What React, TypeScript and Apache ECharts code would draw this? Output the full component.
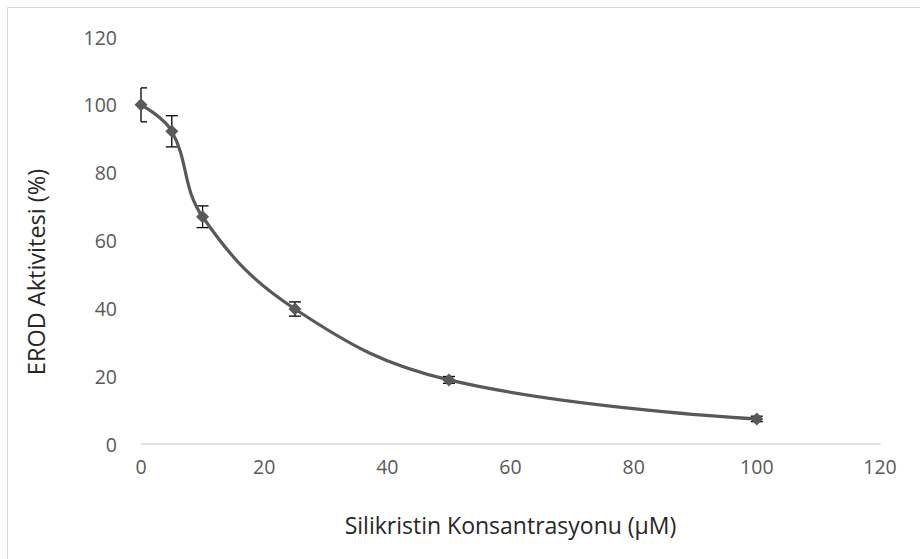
import React, { useEffect, useRef } from "react";
import * as echarts from "echarts";

// Silikristin concentration (µM) vs. EROD activity (%)
const concentrations = [0, 5, 10, 25, 50, 100];
const activity = [100, 92.2, 67, 39.8, 18.9, 7.4];
const errors = [5, 4.6, 3.2, 2.1, 1, 0.8];

const xTicks = { min: 0, max: 120, interval: 20 };
const yTicks = { min: 0, max: 120, interval: 20 };

const xTitle = "Silikristin Konsantrasyonu (μM)";
const yTitle = "EROD Aktivitesi (%)";

const FONT = "'Open Sans', sans-serif";
const INK = "#595959";

export default function App() {
  const ref = useRef<HTMLDivElement>(null);

  useEffect(() => {
    if (!ref.current) return;
    const chart = echarts.init(ref.current, undefined, { renderer: "svg" });

    const points = concentrations.map((c, i) => [c, activity[i]]);
    const bars = concentrations.map((c, i) => [c, activity[i] - errors[i], activity[i] + errors[i]]);

    chart.setOption({
      animation: false,
      backgroundColor: "#ffffff",
      graphic: [
        {
          type: "rect",
          shape: { x: 7.5, y: 7.5, width: 930, height: 600 },
          style: { fill: "none", stroke: "#d9d9d9", lineWidth: 1 },
          silent: true,
          z: -10,
        },
        {
          type: "text",
          x: 36,
          y: 272,
          rotation: Math.PI / 2,
          style: {
            text: yTitle,
            fill: "#262626",
            font: `23.5px ${FONT}`,
            align: "center",
            verticalAlign: "middle",
          },
        },
      ],
      grid: { left: 141, right: 40, top: 37, bottom: 115 },
      xAxis: {
        type: "value",
        min: xTicks.min,
        max: xTicks.max,
        interval: xTicks.interval,
        name: xTitle,
        nameLocation: "middle",
        nameGap: 69,
        nameTextStyle: { color: "#262626", fontFamily: FONT, fontSize: 23 },
        axisLine: { show: true, onZero: false, lineStyle: { color: "#d9d9d9", width: 1.5 } },
        axisTick: { show: false },
        splitLine: { show: false },
        axisLabel: { color: INK, fontFamily: FONT, fontSize: 19.5, margin: 12 },
      },
      yAxis: {
        type: "value",
        min: yTicks.min,
        max: yTicks.max,
        interval: yTicks.interval,
        axisLine: { show: false },
        axisTick: { show: false },
        splitLine: { show: false },
        axisLabel: { color: INK, fontFamily: FONT, fontSize: 19.5, margin: 24 },
      },
      series: [
        {
          type: "custom",
          name: "errors",
          z: 1,
          data: bars,
          renderItem: (params: any, api: any) => {
            const x = api.value(0);
            const lo = api.coord([x, api.value(1)]);
            const hi = api.coord([x, api.value(2)]);
            const left = params.coordSys.x;
            const cap = 6;
            const style = { stroke: "#000000", lineWidth: 1.3 };
            const x1 = Math.max(lo[0] - cap, left);
            return {
              type: "group",
              children: [
                { type: "line", shape: { x1: lo[0], y1: lo[1], x2: hi[0], y2: hi[1] }, style },
                { type: "line", shape: { x1, y1: lo[1], x2: lo[0] + cap, y2: lo[1] }, style },
                { type: "line", shape: { x1, y1: hi[1], x2: hi[0] + cap, y2: hi[1] }, style },
              ],
            };
          },
        },
        {
          type: "line",
          name: "EROD",
          data: points,
          smooth: 0.4,
          z: 2,
          symbol: "diamond",
          symbolSize: 13,
          itemStyle: { color: INK },
          lineStyle: { color: INK, width: 3.2 },
        },
      ],
    });

    return () => chart.dispose();
  }, []);

  return (
    <div
      ref={ref}
      style={{ position: "fixed", left: 0, top: 0, width: 920, height: 559, background: "#fff" }}
    />
  );
}
